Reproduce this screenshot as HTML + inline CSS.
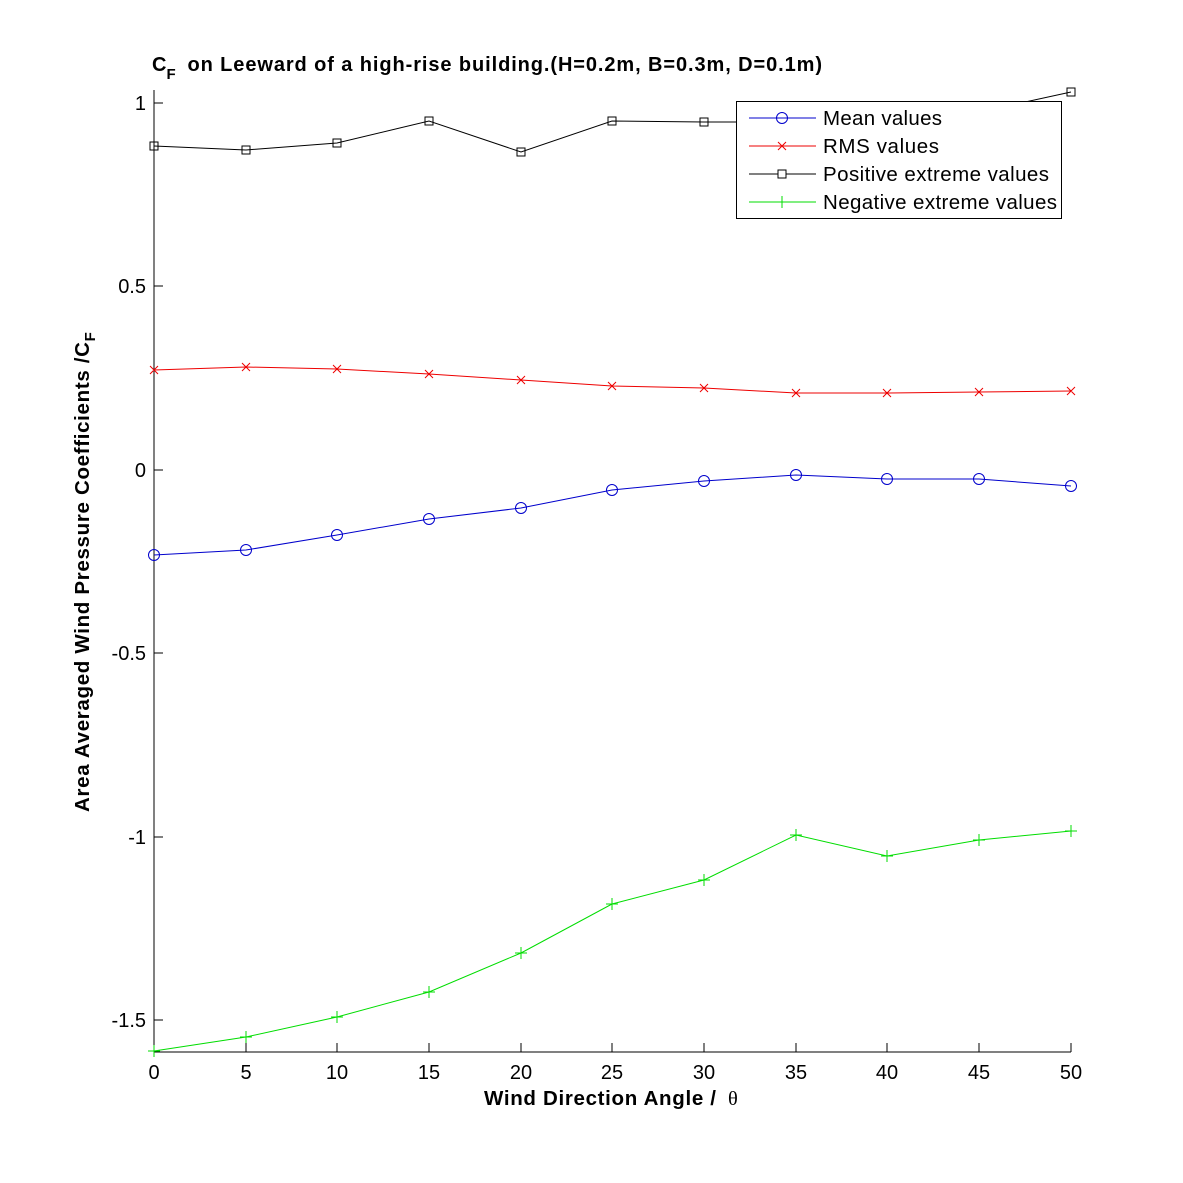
<!DOCTYPE html>
<html><head><style>body{margin:0;background:#fff}svg{display:block}text{font-family:"Liberation Sans",Arial,sans-serif}</style></head>
<body>
<svg width="1183" height="1183" viewBox="0 0 1183 1183" xmlns="http://www.w3.org/2000/svg">
<rect width="1183" height="1183" fill="#fff"/>
<g stroke="#000" stroke-width="1" fill="none">
<line x1="154" y1="90" x2="154" y2="1052"/>
<line x1="154" y1="1052" x2="1071" y2="1052"/>
<path d="M154 103h9M154 286h9M154 470h9M154 653h9M154 837h9M154 1020h9"/>
<path d="M154 1052v-9M246 1052v-9M337 1052v-9M429 1052v-9M521 1052v-9M612 1052v-9M704 1052v-9M796 1052v-9M887 1052v-9M979 1052v-9M1071 1052v-9"/>
</g>
<g font-size="20" text-anchor="end">
<text x="146" y="110">1</text><text x="146" y="293">0.5</text><text x="146" y="477">0</text>
<text x="146" y="660">-0.5</text><text x="146" y="844">-1</text><text x="146" y="1027">-1.5</text>
</g>
<g font-size="20" text-anchor="middle">
<text x="154" y="1079">0</text><text x="246" y="1079">5</text><text x="337" y="1079">10</text><text x="429" y="1079">15</text><text x="521" y="1079">20</text><text x="612" y="1079">25</text><text x="704" y="1079">30</text><text x="796" y="1079">35</text><text x="887" y="1079">40</text><text x="979" y="1079">45</text><text x="1071" y="1079">50</text>
</g>
<text x="484" y="1105" font-size="20.5" font-weight="bold"><tspan textLength="232">Wind Direction Angle  /</tspan><tspan x="728" font-family="Liberation Serif" font-weight="normal">θ</tspan></text>
<text transform="translate(89,812) rotate(-90)" font-size="20.5" font-weight="bold"><tspan textLength="470">Area Averaged Wind Pressure Coefficients /C</tspan><tspan font-size="15" dy="6">F</tspan></text>
<text x="152" y="71" font-size="20" font-weight="bold">C<tspan font-size="15" dy="8">F</tspan><tspan dy="-8" x="181" textLength="641"> on Leeward of a high-rise building.(H=0.2m, B=0.3m, D=0.1m)</tspan></text>

<polyline fill="none" stroke="#000" stroke-width="1" points="154,146 246,150 337,143 429,121 521,152 612,121 704,122 796,122 887,118 979,112 1071,92"/>
<g fill="none" stroke="#000" stroke-width="1">
<rect x="150" y="142" width="8" height="8"/><rect x="242" y="146" width="8" height="8"/><rect x="333" y="139" width="8" height="8"/><rect x="425" y="117" width="8" height="8"/><rect x="517" y="148" width="8" height="8"/><rect x="608" y="117" width="8" height="8"/><rect x="700" y="118" width="8" height="8"/><rect x="1067" y="88" width="8" height="8"/>
</g>
<polyline fill="none" stroke="#e00" stroke-width="1" points="154,370 246,367 337,369 429,374 521,380 612,386 704,388 796,393 887,393 979,392 1071,391"/>
<g stroke="#e00" stroke-width="1">
<path d="M150 366l8 8M158 366l-8 8M242 363l8 8M250 363l-8 8M333 365l8 8M341 365l-8 8M425 370l8 8M433 370l-8 8M517 376l8 8M525 376l-8 8M608 382l8 8M616 382l-8 8M700 384l8 8M708 384l-8 8M792 389l8 8M800 389l-8 8M883 389l8 8M891 389l-8 8M975 388l8 8M983 388l-8 8M1067 387l8 8M1075 387l-8 8"/>
</g>
<polyline fill="none" stroke="#00c" stroke-width="1" points="154,555 246,550 337,535 429,519 521,508 612,490 704,481 796,475 887,479 979,479 1071,486"/>
<g fill="none" stroke="#00c" stroke-width="1">
<circle cx="154" cy="555" r="5.5"/><circle cx="246" cy="550" r="5.5"/><circle cx="337" cy="535" r="5.5"/><circle cx="429" cy="519" r="5.5"/><circle cx="521" cy="508" r="5.5"/><circle cx="612" cy="490" r="5.5"/><circle cx="704" cy="481" r="5.5"/><circle cx="796" cy="475" r="5.5"/><circle cx="887" cy="479" r="5.5"/><circle cx="979" cy="479" r="5.5"/><circle cx="1071" cy="486" r="5.5"/>
</g>
<polyline fill="none" stroke="#0d0" stroke-width="1" points="154,1051 246,1037 337,1017 429,992 521,953 612,904 704,880 796,835 887,856 979,840 1071,831"/>
<g stroke="#0d0" stroke-width="1">
<path d="M148 1051h12M154 1045v12M240 1037h12M246 1031v12M331 1017h12M337 1011v12M423 992h12M429 986v12M515 953h12M521 947v12M606 904h12M612 898v12M698 880h12M704 874v12M790 835h12M796 829v12M881 856h12M887 850v12M973 840h12M979 834v12M1065 831h12M1071 825v12"/>
</g>
<rect x="736.5" y="101.5" width="325" height="117" fill="#fff" stroke="#000"/>
<g stroke-width="1">
<line x1="749" y1="118" x2="816" y2="118" stroke="#00c"/><circle cx="782" cy="118" r="5.5" fill="none" stroke="#00c"/>
<line x1="749" y1="146" x2="816" y2="146" stroke="#e00"/><path d="M778 142l8 8M786 142l-8 8" stroke="#e00"/>
<line x1="749" y1="174" x2="816" y2="174" stroke="#000"/><rect x="778" y="170" width="8" height="8" fill="#fff" stroke="#000"/>
<line x1="749" y1="202" x2="816" y2="202" stroke="#0d0"/><path d="M782 196v12" stroke="#0d0"/>
</g>
<g font-size="20.5">
<text x="823" y="125" textLength="119">Mean values</text><text x="823" y="153" textLength="116">RMS values</text><text x="823" y="181" textLength="226">Positive extreme values</text><text x="823" y="209" textLength="234">Negative extreme values</text>
</g>
</svg>
</body></html>
